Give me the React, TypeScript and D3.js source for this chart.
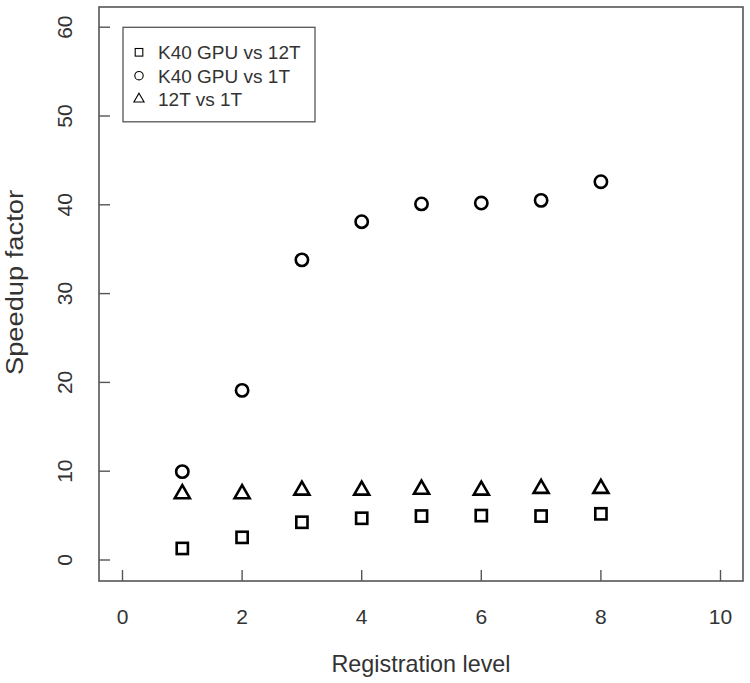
import React from "react";
import * as d3 from "d3";

const levels = [1, 2, 3, 4, 5, 6, 7, 8];
const gpuVs12T = [1.3, 2.55, 4.25, 4.7, 4.95, 5.0, 4.95, 5.2];
const gpuVs1T = [9.95, 19.1, 33.8, 38.1, 40.1, 40.2, 40.5, 42.6];
const t12Vs1T = [7.45, 7.45, 7.85, 7.85, 7.95, 7.85, 8.05, 8.05];
const xTicks = [0, 2, 4, 6, 8, 10];
const yTicks = [0, 10, 20, 30, 40, 50, 60];
const legendLabels = ["K40 GPU vs 12T", "K40 GPU vs 1T", "12T vs 1T"];

const W = 750;
const H = 683;
const box = { left: 99, right: 743, top: 7, bottom: 581 };
const FONT = "'Liberation Sans', Arial, sans-serif";
const TEXT = "#333";
const AXIS = "#555";

function triPath(cx: number, cy: number, r: number) {
  const xc = r * 0.866;
  const yc = r * 0.5;
  return `M${cx},${cy - r}L${cx + xc},${cy + yc}L${cx - xc},${cy + yc}Z`;
}

function Marker({ kind, cx, cy, s, sw }: { kind: number; cx: number; cy: number; s: number; sw: number }) {
  if (kind === 0)
    return <rect x={cx - s} y={cy - s} width={2 * s} height={2 * s} fill="none" stroke="#000" strokeWidth={sw} />;
  if (kind === 1) return <circle cx={cx} cy={cy} r={s * 1.1} fill="none" stroke="#000" strokeWidth={sw} />;
  return <path d={triPath(cx, cy, s * 1.55)} fill="none" stroke="#000" strokeWidth={sw} strokeLinejoin="miter" />;
}

export default function App() {
  const x = d3.scaleLinear().domain([0, 10]).range([122.5, 720.5]);
  const y = d3.scaleLinear().domain([0, 60]).range([560, 27.2]);
  const series = [gpuVs12T, gpuVs1T, t12Vs1T];

  return (
    <svg width={W} height={H} style={{ position: "absolute", left: 0, top: 0, background: "#fff" }}>
      <rect x={0} y={0} width={W} height={H} fill="#fff" />
      <rect
        x={box.left}
        y={box.top}
        width={box.right - box.left}
        height={box.bottom - box.top}
        fill="none"
        stroke={AXIS}
        strokeWidth={1.6}
      />
      {xTicks.map((t) => (
        <g key={"x" + t}>
          <line x1={x(t)} x2={x(t)} y1={box.bottom} y2={box.bottom - 11} stroke={AXIS} strokeWidth={1.4} />
          <text x={x(t)} y={623.5} textAnchor="middle" fontFamily={FONT} fontSize={21} fill={TEXT}>
            {t}
          </text>
        </g>
      ))}
      {yTicks.map((t) => (
        <g key={"y" + t}>
          <line x1={box.left} x2={box.left + 11} y1={y(t)} y2={y(t)} stroke={AXIS} strokeWidth={1.4} />
          <text
            transform={`translate(72,${y(t)}) rotate(-90)`}
            textAnchor="middle"
            fontFamily={FONT}
            fontSize={21}
            fill={TEXT}
          >
            {t}
          </text>
        </g>
      ))}
      <text
        x={421}
        y={671.5}
        textAnchor="middle"
        fontFamily={FONT}
        fontSize={24}
        fill={TEXT}
        textLength={179}
        lengthAdjust="spacingAndGlyphs"
      >
        Registration level
      </text>
      <text
        transform={`translate(23,282.5) rotate(-90)`}
        textAnchor="middle"
        fontFamily={FONT}
        fontSize={23.5}
        fill={TEXT}
        textLength={185}
        lengthAdjust="spacingAndGlyphs"
      >
        Speedup factor
      </text>
      {series.map((vals, k) =>
        levels.map((lv, i) => (
          <Marker key={k + "-" + i} kind={k} cx={x(lv)} cy={y(vals[i])} s={5.6} sw={2.6} />
        ))
      )}
      <rect x={123} y={27.3} width={192} height={94.5} fill="#fff" stroke={AXIS} strokeWidth={1.3} />
      {legendLabels.map((lab, k) => {
        const base = 59.3 + k * 23.4;
        return (
          <g key={lab}>
            <Marker kind={k} cx={139} cy={base - 7} s={3.8} sw={1.1} />
            <text x={158} y={base} fontFamily={FONT} fontSize={19} fill={TEXT}>
              {lab}
            </text>
          </g>
        );
      })}
    </svg>
  );
}
